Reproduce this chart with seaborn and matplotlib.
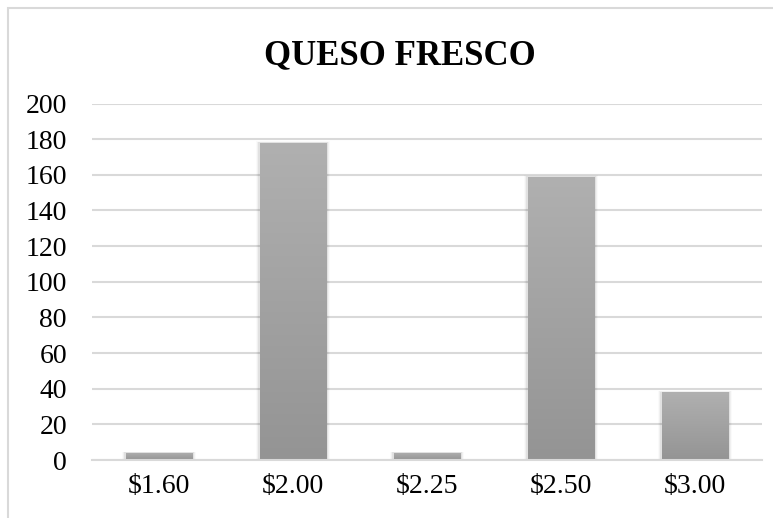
import numpy as np
import pandas as pd
import seaborn as sns
import matplotlib.pyplot as plt
from matplotlib.patches import Rectangle
from matplotlib.colors import LinearSegmentedColormap

# datos
precios = ["$1.60", "$2.00", "$2.25", "$2.50", "$3.00"]
cantidad = [4, 178, 4, 159, 38]
df = pd.DataFrame({"precio": precios, "cantidad": cantidad})

sns.set_theme(style="white")
plt.rcParams['font.family'] = ['Liberation Serif', 'DejaVu Serif']

fig = plt.figure(figsize=(7.73, 5.18), dpi=100)
ax = fig.add_axes([92/773, 1 - 460/518, 670/773, 356.5/518])

sns.barplot(data=df, x="precio", y="cantidad", color="#a3a3a3", width=0.5,
            saturation=1, ax=ax, zorder=3, linewidth=0, edgecolor="none")

# degradado en cada barra
grad = np.linspace(0, 1, 256).reshape(-1, 1)
cmap = LinearSegmentedColormap.from_list("g", ["#949494", "#b0b0b0"])
for p in ax.patches:
    x0, y0 = p.get_x(), p.get_y()
    w, h = p.get_width(), p.get_height()
    # sombra suave
    for k, a in enumerate([0.06, 0.04, 0.02]):
        d = 0.008 * (k + 1)
        ax.add_patch(Rectangle((x0 - d, y0), w + 2 * d, h + d * 30,
                               facecolor="black", alpha=a, lw=0, zorder=2))
    im = ax.imshow(grad, cmap=cmap, extent=[x0, x0 + w, y0, y0 + h],
                   origin="lower", aspect="auto", zorder=4)
    im.set_clip_path(p)

ax.set_xlim(-0.5, 4.5)
ax.set_ylim(0, 200)
ax.set_yticks(np.arange(0, 201, 20))
ax.yaxis.grid(True, color="#d9d9d9", lw=1.5, zorder=0)
ax.set_xlabel("")
ax.set_ylabel("")
for s in ["top", "right", "left"]:
    ax.spines[s].set_visible(False)
ax.spines["bottom"].set_color("#d9d9d9")
ax.spines["bottom"].set_linewidth(1.5)
ax.spines["bottom"].set_zorder(5)

ax.set_xticks(np.arange(-0.5, 4.6, 1), minor=True)
ax.tick_params(axis="x", which="minor", length=8, width=1.5, color="#d9d9d9", direction="out")
ax.tick_params(axis="x", which="major", length=0, pad=10, labelsize=20, labelcolor="black")
ax.tick_params(axis="y", length=0, pad=18, labelsize=20, labelcolor="black")

fig.text(0.517, 0.893, "QUESO FRESCO", ha="center", va="center",
         fontsize=25, fontweight="bold", color="black")

# borde del gráfico
fig.patches.append(Rectangle((8/773, -0.1), 1.2, 1 - 8/518 + 0.1,
                             transform=fig.transFigure, fill=False,
                             edgecolor="#d9d9d9", lw=1.5))

fig.savefig("out.png", dpi=100)
